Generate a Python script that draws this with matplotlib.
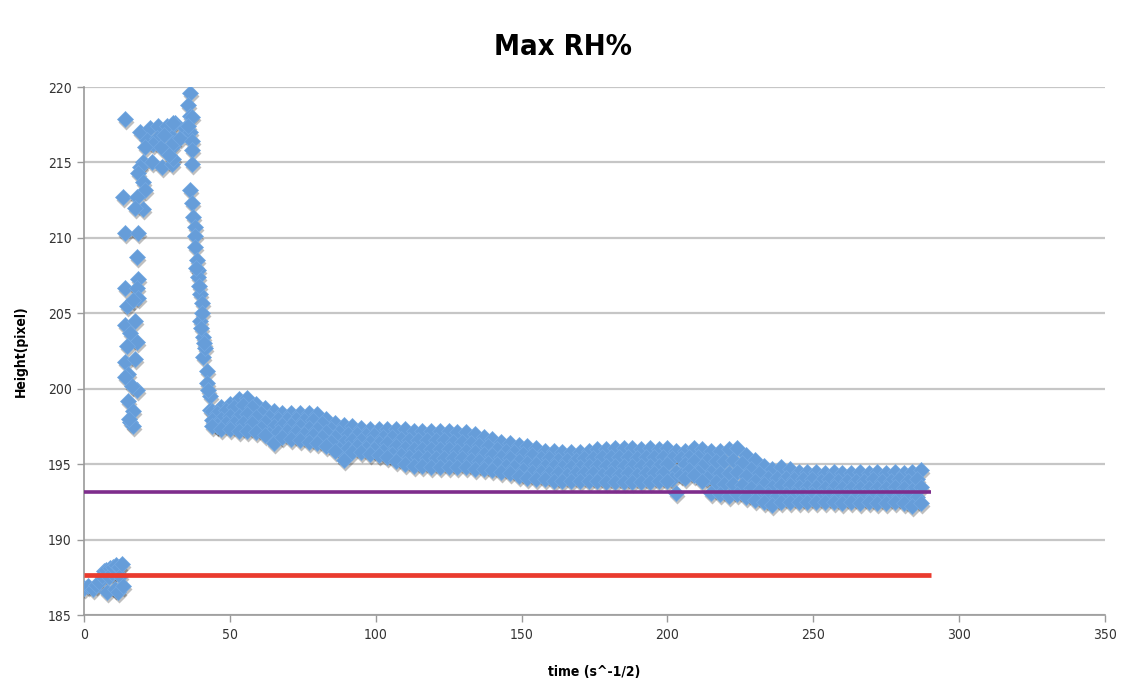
import matplotlib
matplotlib.use('Agg')
import matplotlib.pyplot as plt
from matplotlib.transforms import offset_copy
import numpy as np

# readings before the jump (x = time, y = height in pixels)
early_t = [0, 1.5, 3, 4, 5, 6, 7, 7.5, 8, 8.5, 9, 9.5, 10, 10.5, 11, 11.5, 12, 12.5, 13, 13.5]
early_h = [186.8, 186.9, 186.7, 187.0, 187.2, 187.6, 187.9, 188.0, 186.5, 187.5,
           188.1, 187.8, 188.2, 186.7, 188.3, 186.5, 188.2, 187.6, 188.4, 186.9]

# first rise
spike_t = [14.1, 13.4, 14.0, 18.5, 18.1, 18.5, 14.1, 18.0, 18.5, 14.6, 16.8, 14.1, 17.5, 15.8,
           18.0, 14.6, 14.1, 17.5, 15.1, 18.0, 16.3, 15.1, 16.8, 15.8, 16.8, 14.0, 15.5]
spike_h = [217.9, 212.7, 210.3, 210.3, 208.7, 207.3, 206.7, 206.7, 206.0, 205.5, 205.9, 204.2,
           204.5, 203.7, 203.1, 202.8, 201.8, 202.0, 201.0, 199.9, 200.2, 199.2, 198.5, 197.8,
           197.5, 200.8, 198.0]

crest_t = [19.2, 22.6, 25.4, 28.3, 31.2, 21.5, 24.9, 30.1, 30.1, 20.3, 23.2, 26.6, 30.1, 19.2, 18.6,
           20.3, 20.9, 18.0, 20.3, 17.5, 30.6, 30.6, 30.6, 33.0, 34.5, 23.5, 26.5, 27.5, 21.0, 29.0]
crest_h = [217.0, 217.3, 217.4, 217.4, 217.6, 216.5, 216.6, 216.7, 216.0, 215.0, 215.0, 214.7,
           214.9, 214.7, 214.3, 213.7, 213.2, 212.7, 211.9, 212.0, 217.6, 216.3, 215.2, 216.6,
           217.3, 216.2, 216.0, 216.8, 216.0, 215.5]

peak_t = [36.3, 35.8, 36.3, 36.9, 36.3, 36.9, 36.9, 36.9, 35.6]
peak_h = [219.6, 218.8, 218.1, 218.0, 217.0, 216.4, 215.8, 214.9, 217.4]

# fall back down
drop_t = [36.3, 36.9, 37.5, 38.1, 38.1, 38.1, 38.6, 39.2, 39.2, 39.8, 40.3, 39.8, 40.9, 40.9,
          42.0, 42.0, 43.2, 43.2, 45.5, 38.4, 39.5, 40.5, 41.5, 42.5, 41.0, 40.2]
drop_h = [213.2, 212.3, 211.4, 210.7, 210.1, 209.4, 208.5, 207.9, 207.4, 206.3, 205.7, 204.5,
          203.4, 202.1, 201.2, 200.4, 199.5, 198.6, 197.5, 208.0, 206.8, 205.0, 202.7, 199.9,
          203.0, 204.0]

# slow decay, spread of readings at each time
band_t = [44, 47, 50, 53, 56, 59, 62, 65, 68, 71, 74, 77, 80, 83, 86, 89, 92, 95, 98, 101,
          104, 107, 110, 113, 116, 119, 122, 125, 128, 131, 134, 137, 140, 143, 146, 149, 152,
          155, 158, 161, 164, 167, 170, 173, 176, 179, 182, 185, 188, 191, 194, 197, 200, 203,
          206, 209, 212, 215, 218, 221, 224, 227, 230, 233, 236, 239, 242, 245, 248, 251, 254,
          257, 260, 263, 266, 269, 272, 275, 278, 281, 284, 287]
band_top = [198.5, 198.8, 199.0, 199.3, 199.4, 199.0, 198.7, 198.5, 198.4, 198.4, 198.4, 198.4,
            198.3, 198.0, 197.7, 197.6, 197.5, 197.4, 197.3, 197.3, 197.3, 197.3, 197.3, 197.2,
            197.2, 197.2, 197.2, 197.2, 197.1, 197.1, 197.0, 196.8, 196.7, 196.5, 196.4, 196.3,
            196.2, 196.1, 195.9, 195.9, 195.8, 195.8, 195.8, 195.9, 196.0, 196.0, 196.1, 196.1,
            196.1, 196.0, 196.1, 196.0, 196.1, 195.9, 195.9, 196.1, 196.0, 195.9, 195.9, 196.0,
            196.1, 195.6, 195.3, 194.9, 194.7, 194.8, 194.7, 194.5, 194.5, 194.5, 194.4, 194.5,
            194.4, 194.4, 194.5, 194.4, 194.5, 194.4, 194.5, 194.4, 194.5, 194.6]
band_mid = [197.9, 198.0, 198.2, 198.2, 198.3, 198.1, 197.8, 197.5, 197.6, 197.6, 197.5, 197.4,
            197.3, 197.1, 196.8, 196.5, 196.6, 196.6, 196.5, 196.4, 196.4, 196.2, 196.1, 196.0,
            196.0, 196.0, 196.0, 196.0, 195.9, 195.9, 195.8, 195.7, 195.6, 195.5, 195.4, 195.2,
            195.1, 195.0, 194.9, 194.9, 194.8, 194.8, 194.8, 194.9, 194.9, 194.9, 194.9, 194.9,
            194.9, 194.9, 194.9, 194.9, 195.0, 194.5, 195.0, 195.2, 194.9, 194.5, 194.4, 194.4,
            194.5, 194.2, 193.9, 193.7, 193.5, 193.6, 193.6, 193.5, 193.5, 193.5, 193.4, 193.5,
            193.4, 193.4, 193.4, 193.4, 193.4, 193.4, 193.5, 193.4, 193.3, 193.5]
band_bot = [197.5, 197.3, 197.3, 197.2, 197.2, 197.1, 196.9, 196.4, 196.8, 196.7, 196.6, 196.5,
            196.4, 196.2, 195.9, 195.3, 195.8, 195.8, 195.7, 195.6, 195.5, 195.2, 195.0, 194.9,
            194.9, 194.8, 194.8, 194.8, 194.8, 194.8, 194.7, 194.7, 194.6, 194.5, 194.4, 194.2,
            194.1, 194.0, 194.0, 193.9, 193.9, 193.9, 193.9, 193.9, 193.9, 193.8, 193.8, 193.8,
            193.8, 193.8, 193.8, 193.9, 193.9, 193.1, 194.1, 194.3, 193.9, 193.1, 193.0, 192.9,
            193.0, 192.8, 192.6, 192.5, 192.3, 192.5, 192.5, 192.5, 192.5, 192.5, 192.5, 192.5,
            192.4, 192.5, 192.4, 192.5, 192.4, 192.4, 192.5, 192.4, 192.2, 192.4]

band_t2 = [45.5, 48.5, 51.5, 54.5, 57.5, 60.5, 63.5, 66.5, 69.5, 72.5, 75.5, 78.5, 81.5, 84.5,
           87.5, 90.5, 93.5, 96.5, 99.5, 102.5, 105.5, 108.5, 111.5, 114.5, 117.5, 120.5, 123.5,
           126.5, 129.5, 132.5, 135.5, 138.5, 141.5, 144.5, 147.5, 150.5, 153.5, 156.5, 159.5,
           162.5, 165.5, 168.5, 171.5, 174.5, 177.5, 180.5, 183.5, 186.5, 189.5, 192.5, 195.5,
           198.5, 201.5, 204.5, 207.5, 210.5, 213.5, 216.5, 219.5, 222.5, 225.5, 228.5, 231.5,
           234.5, 237.5, 240.5, 243.5, 246.5, 249.5, 252.5, 255.5, 258.5, 261.5, 264.5, 267.5,
           270.5, 273.5, 276.5, 279.5, 282.5, 285.5]
band_upper = [198.4, 198.6, 198.8, 198.9, 198.8, 198.4, 198.1, 198.0, 198.0, 198.0, 197.9, 197.9,
              197.7, 197.3, 197.1, 197.0, 197.0, 196.9, 196.9, 196.8, 196.8, 196.7, 196.6, 196.6,
              196.6, 196.6, 196.6, 196.5, 196.5, 196.4, 196.3, 196.2, 196.0, 195.9, 195.8, 195.7,
              195.6, 195.4, 195.4, 195.3, 195.3, 195.3, 195.4, 195.4, 195.5, 195.5, 195.5, 195.5,
              195.4, 195.5, 195.5, 195.5, 195.4, 195.4, 195.5, 195.5, 195.3, 195.2, 195.2, 195.3,
              195.1, 194.7, 194.4, 194.1, 194.1, 194.1, 194.0, 194.0, 194.0, 193.9, 194.0, 193.9,
              193.9, 193.9, 193.9, 194.0, 193.9, 193.9, 194.0, 193.9, 194.0]
band_lower = [197.6, 197.7, 197.7, 197.7, 197.7, 197.4, 197.0, 197.1, 197.2, 197.1, 197.0, 196.9,
              196.8, 196.5, 196.0, 196.1, 196.2, 196.1, 196.0, 195.9, 195.7, 195.6, 195.5, 195.5,
              195.4, 195.4, 195.4, 195.4, 195.4, 195.3, 195.2, 195.1, 195.0, 194.9, 194.8, 194.6,
              194.5, 194.5, 194.4, 194.4, 194.3, 194.4, 194.4, 194.4, 194.3, 194.4, 194.3, 194.4,
              194.3, 194.4, 194.4, 194.4, 194.0, 194.3, 194.6, 194.5, 194.1, 193.8, 193.7, 193.7,
              193.6, 193.4, 193.2, 193.0, 192.9, 193.0, 193.0, 193.0, 193.0, 192.9, 193.0, 192.9,
              192.9, 192.9, 192.9, 192.9, 192.9, 192.9, 192.9, 192.9, 192.8]

# reference levels
level_t = [0, 290.5]
upper_level = [193.15, 193.15]
lower_level = [187.65, 187.65]

series_t = [early_t, spike_t, crest_t, peak_t, drop_t,
            band_t, band_t2, band_t, band_t2, band_t]
series_h = [early_h, spike_h, crest_h, peak_h, drop_h,
            band_top, band_upper, band_mid, band_lower, band_bot]

fig = plt.figure(figsize=(11.28, 6.95), dpi=100)
ax = fig.add_axes([0.0745, 0.1151, 0.9051, 0.7597])

# soft dark shadow under each diamond, then the diamonds themselves
shadow = offset_copy(ax.transData, fig=fig, x=1.0, y=-3.0, units='dots')
for t, h in zip(series_t, series_h):
    ax.plot(t, h, linestyle='none', marker='D', ms=7.7, mfc='black', mec='none',
            alpha=0.25, transform=shadow, zorder=3)
for t, h in zip(series_t, series_h):
    ax.plot(t, h, linestyle='none', marker='D', ms=7.7, mfc='#669dd9', mec='#74a9e2',
            mew=0.5, zorder=4)

ax.plot(level_t, upper_level, color='#7e2d8c', lw=2.6, solid_capstyle='butt', zorder=5)
ax.plot(level_t, lower_level, color='#ea3b2e', lw=3.4, solid_capstyle='butt', zorder=5)

ax.set_xlim(0, 350)
ax.set_ylim(185, 220)
ax.set_xticks(np.arange(0, 351, 50))
ax.set_yticks(np.arange(185, 221, 5))
ax.grid(True, axis='y', color='#c6c6c6', lw=1.6)
ax.set_axisbelow(True)
for s in ['top', 'right']:
    ax.spines[s].set_visible(False)
for s in ['left', 'bottom']:
    ax.spines[s].set_color('#9a9a9a')
    ax.spines[s].set_linewidth(1.2)
ax.tick_params(axis='both', colors='#9a9a9a', length=5, width=1.0, labelcolor='#333333',
               labelsize=10, pad=4)
for lab in ax.get_xticklabels() + ax.get_yticklabels():
    lab.set_fontstretch('condensed')

fig.text(0.499, 0.932, 'Max RH%', ha='center', va='center', fontsize=21, fontweight='bold',
         fontstretch='condensed')
ax.set_xlabel('time (s^-1/2)', fontsize=10, fontweight='bold', labelpad=17,
              fontstretch='condensed')
ax.set_ylabel('Height(pixel)', fontsize=10, fontweight='bold', labelpad=14,
              fontstretch='condensed')

fig.savefig('out.png', dpi=100)
